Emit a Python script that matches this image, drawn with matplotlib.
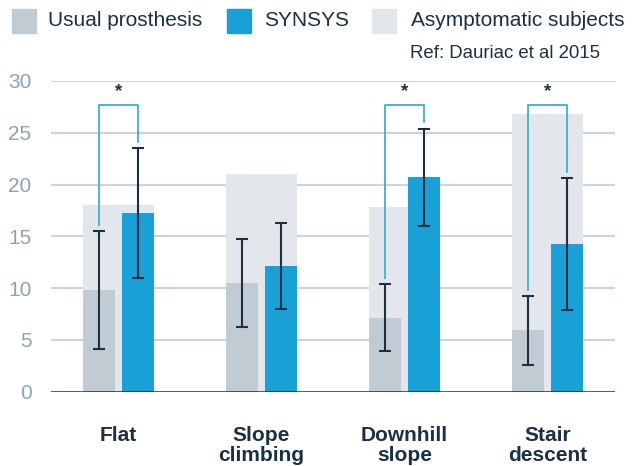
import numpy as np
import matplotlib.pyplot as plt

plt.rcParams['font.family'] = ['Liberation Sans', 'DejaVu Sans']

# Daten
categories = ["Flat", "Slope\nclimbing", "Downhill\nslope", "Stair\ndescent"]
usual = [9.8, 10.5, 7.1, 6.0]
usual_lo = [4.1, 6.2, 3.9, 2.55]
usual_hi = [15.5, 14.75, 10.4, 9.2]
synsys = [17.3, 12.15, 20.7, 14.3]
synsys_lo = [11.0, 7.97, 16.0, 7.9]
synsys_hi = [23.55, 16.3, 25.4, 20.65]
asympt = [18.0, 21.0, 17.8, 26.8]
significant = [True, False, True, True]
yticks = [0, 5, 10, 15, 20, 25, 30]

c_usual = "#C1CBD3"
c_synsys = "#18A0D7"
c_asympt = "#E3E6EA"
c_text = "#1B3042"
c_tick = "#8DA2B3"
c_grid = "#CCD5DD"
c_bracket = "#3AAEE0"

fig = plt.figure(figsize=(6.43, 4.66), dpi=100)
ax = fig.add_axes([51 / 643, 74.3 / 466, 564 / 643, 310.7 / 466])

x = np.arange(len(categories))
w = 0.224
off = 0.136

ax.bar(x, asympt, width=0.497, color=c_asympt, zorder=2)
ax.bar(x - off, usual, width=w, color=c_usual, zorder=3)
ax.bar(x + off, synsys, width=w, color=c_synsys, zorder=3)

u = np.array(usual)
s = np.array(synsys)
ax.errorbar(x - off, u, yerr=[u - np.array(usual_lo), np.array(usual_hi) - u],
            fmt="none", ecolor=c_text, elinewidth=1.5, capsize=4, capthick=1.5, zorder=4)
ax.errorbar(x + off, s, yerr=[s - np.array(synsys_lo), np.array(synsys_hi) - s],
            fmt="none", ecolor=c_text, elinewidth=1.5, capsize=4, capthick=1.5, zorder=4)

# Signifikanz-Klammern
for i, sig in enumerate(significant):
    if not sig:
        continue
    top = 27.7
    ax.plot([i - off, i - off, i + off, i + off],
            [usual_hi[i] + 0.6, top, top, synsys_hi[i] + 0.6],
            color=c_bracket, lw=1.3, zorder=5, clip_on=False)
    ax.text(i, top + 0.45, "*", ha="center", va="bottom", fontsize=13.5,
            fontweight="bold", color=c_text)

ax.set_xlim(-0.472, 3.472)
ax.set_ylim(0, 30)
ax.set_yticks(yticks)
for t in yticks[1:]:
    ax.axhline(t, color=c_grid, lw=1.6, zorder=1)
ax.axhline(0, color=c_text, lw=1.8, zorder=6)

ax.set_xticks(x)
ax.set_xticklabels(categories, fontsize=15, fontweight="bold", color=c_text,
                   linespacing=1.05)
ax.tick_params(axis="x", length=0, pad=25)
ax.tick_params(axis="y", length=0, pad=14, labelsize=15, labelcolor=c_tick)
for sp in ax.spines.values():
    sp.set_visible(False)

# Legende
def px(xp, yp):
    return xp / 643, 1 - yp / 466

legend_items = [("Usual prosthesis", c_usual, 12, 48),
                ("SYNSYS", c_synsys, 227, 264),
                ("Asymptomatic subjects", c_asympt, 372, 411)]
for label, col, xs, xt in legend_items:
    x0, y0 = px(xs, 33)
    fig.patches.append(plt.Rectangle((x0, y0), 24 / 643, 24 / 466, color=col,
                                     transform=fig.transFigure, figure=fig))
    fig.text(*px(xt, 21), label, fontsize=15, color=c_text, va="center")
fig.text(*px(410, 53), "Ref: Dauriac et al 2015", fontsize=13.4, color=c_text,
         va="center")

fig.savefig("out.png", dpi=100)
